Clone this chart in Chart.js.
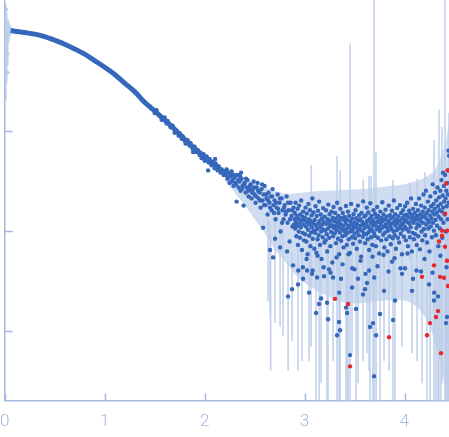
<!DOCTYPE html>
<html>
<head>
<meta charset="utf-8">
<script src="https://cdn.jsdelivr.net/npm/chart.js@4.4.1/dist/chart.umd.min.js"></script>
<style>
  html, body { margin: 0; padding: 0; background: #fff; }
  #wrap { width: 449px; height: 437px; position: relative; }
</style>
</head>
<body>
<div id="wrap"><canvas id="chart"></canvas></div>
<script>
// smooth low-q part of the curve (q in 1/nm, intensity in arbitrary units)
const curveQ = [0.06,0.1,0.2,0.3,0.4,0.5,0.6,0.7,0.8,0.9,1.0,1.1,1.2,1.3,1.4,1.5,1.6,1.7,1.8,1.9,2.0,2.1,2.2];
const curveI = [1.0,0.985,0.955,0.92,0.87,0.80,0.73,0.655,0.58,0.50,0.43,0.364,0.298,0.245,0.192,0.157,0.128,0.103,0.082,0.066,0.054,0.045,0.038];

// measured points [q, I]
const bluePoints = [
  [1.45,0.175],[1.47,0.165],[1.5,0.150],[1.52,0.160],[1.55,0.140],[1.57,0.128],[1.6,0.135],[1.62,0.118],[1.63,0.125],[1.66,0.108],
  [1.68,0.112],[1.7,0.095],[1.72,0.100],[1.74,0.089],[1.75,0.094],[1.77,0.083],[1.78,0.088],[1.8,0.079],[1.81,0.074],[1.83,0.080],
  [1.85,0.071],[1.86,0.075],[1.88,0.066],[1.885,0.061],[1.9,0.069],[1.91,0.061],[1.93,0.064],[1.95,0.057],[1.96,0.060],[1.97,0.053],
  [1.99,0.058],[2.0,0.050],[2.02,0.055],[2.035,0.040],[2.04,0.048],[2.05,0.052],[2.07,0.045],[2.08,0.049],[2.1,0.042],[2.105,0.052],
  [2.11,0.047],[2.13,0.040],[2.14,0.044],[2.16,0.038],[2.17,0.041],[2.19,0.036],[2.2,0.039],
  [2.21,0.036],[2.22,0.041],[2.23,0.033],[2.24,0.038],[2.25,0.030],[2.26,0.035],[2.27,0.039],[2.28,0.032],[2.29,0.028],[2.30,0.034],
  [2.31,0.030],[2.32,0.0195],[2.33,0.036],[2.34,0.027],[2.35,0.031],[2.36,0.025],[2.365,0.038],[2.37,0.033],[2.38,0.028],[2.39,0.0178],
  [2.40,0.030],[2.41,0.024],[2.42,0.027],[2.43,0.032],[2.44,0.022],[2.45,0.026],[2.46,0.029],[2.47,0.021],[2.48,0.025],[2.49,0.031],
  [2.50,0.023],[2.51,0.019],[2.52,0.027],[2.53,0.030],[2.54,0.021],[2.55,0.024],[2.56,0.017],[2.57,0.026],[2.58,0.020],[2.59,0.023],
  [2.60,0.028],[2.61,0.018],[2.62,0.021],[2.63,0.0145],[2.64,0.024],[2.65,0.019],[2.66,0.022],[2.67,0.016],[2.68,0.026],[2.69,0.018],
  [2.70,0.020],[2.71,0.013],[2.72,0.017],[2.73,0.023],[2.74,0.015],[2.75,0.019],[2.76,0.0098],[2.77,0.021],[2.78,0.016],[2.79,0.013],
  [2.80,0.018],[2.81,0.0145],[2.82,0.022],[2.83,0.012],[2.84,0.016],[2.85,0.0078],[2.86,0.019],[2.87,0.014],[2.88,0.011],[2.89,0.017],[2.90,0.013],
  [2.215,0.039],[2.235,0.034],[2.255,0.037],[2.275,0.031],[2.295,0.036],[2.315,0.029],[2.335,0.032],[2.355,0.035],[2.375,0.026],[2.395,0.029],
  [2.415,0.033],[2.435,0.025],[2.455,0.028],[2.475,0.024],[2.495,0.027],[2.515,0.022],[2.535,0.025],[2.555,0.020],[2.575,0.029],[2.595,0.018],
  [2.615,0.023],[2.635,0.020],[2.655,0.017],[2.675,0.022],[2.695,0.015],[2.715,0.019],[2.735,0.0165],[2.755,0.021],[2.775,0.012],[2.795,0.017],
  [2.815,0.0155],[2.835,0.019],[2.855,0.013],[2.875,0.016],[2.895,0.0115],
  [2.585,0.0107],[2.655,0.0064],[2.685,0.0054],[2.705,0.0083],[2.755,0.0068],[2.825,0.0062],[2.835,0.0022],[2.875,0.0026],[2.885,0.0045],
  [2.935,0.0029],[2.937,0.0040],
  [2.902,0.0150],[2.906,0.0105],[2.91,0.0190],[2.914,0.0122],[2.918,0.0088],[2.922,0.0140],[2.926,0.0112],[2.93,0.0165],[2.934,0.0072],[2.938,0.0131],
  [2.942,0.0098],[2.946,0.0178],[2.95,0.0118],[2.954,0.0085],[2.958,0.0145],[2.962,0.0108],[2.966,0.0200],[2.97,0.0126],[2.974,0.0064],[2.978,0.0138],
  [2.982,0.0095],[2.986,0.0155],[2.99,0.0115],[2.994,0.0080],[2.998,0.0128],
  [3.002,0.0135],[3.006,0.0092],[3.01,0.0170],[3.014,0.0110],[3.018,0.0078],[3.022,0.0148],[3.026,0.0121],[3.03,0.0058],[3.034,0.0102],[3.038,0.0185],
  [3.042,0.0130],[3.046,0.0089],[3.05,0.0115],[3.054,0.0160],[3.058,0.0070],[3.062,0.0125],[3.066,0.0096],[3.07,0.0142],[3.074,0.0108],[3.078,0.0210],
  [3.082,0.0083],[3.086,0.0119],[3.09,0.0152],[3.094,0.0100],[3.098,0.0066],
  [3.102,0.0128],[3.106,0.0095],[3.11,0.0175],[3.114,0.0113],[3.118,0.0060],[3.122,0.0140],[3.126,0.0104],[3.13,0.0082],[3.134,0.0158],[3.138,0.0118],
  [3.142,0.0090],[3.146,0.0195],[3.15,0.0125],[3.154,0.0072],[3.158,0.0108],[3.162,0.0145],[3.166,0.0098],[3.17,0.0052],[3.174,0.0132],[3.178,0.0115],
  [3.182,0.0086],[3.186,0.0168],[3.19,0.0102],[3.194,0.0122],[3.198,0.0076],
  [3.202,0.0138],[3.206,0.0100],[3.21,0.0080],[3.214,0.0160],[3.218,0.0117],[3.222,0.0092],[3.226,0.0062],[3.23,0.0130],[3.234,0.0105],[3.238,0.0182],
  [3.242,0.0120],[3.246,0.0085],[3.25,0.0146],[3.254,0.0110],[3.258,0.0070],[3.262,0.0126],[3.266,0.0097],[3.27,0.0155],[3.274,0.0113],[3.278,0.0048],
  [3.282,0.0135],[3.286,0.0088],[3.29,0.0172],[3.294,0.0106],[3.298,0.0124],
  [3.302,0.0094],[3.306,0.0150],[3.31,0.0112],[3.314,0.0075],[3.318,0.0132],[3.322,0.0101],[3.326,0.0190],[3.33,0.0120],[3.334,0.0083],[3.338,0.0140],
  [3.342,0.0108],[3.346,0.0058],[3.35,0.0126],[3.354,0.0096],[3.358,0.0165],[3.362,0.0116],[3.366,0.0079],[3.37,0.0134],[3.374,0.0103],[3.378,0.0088],
  [3.382,0.0150],[3.386,0.0111],[3.39,0.0068],[3.394,0.0128],[3.398,0.0099],
  [3.402,0.0137],[3.406,0.0090],[3.41,0.0118],[3.414,0.0176],[3.418,0.0104],[3.422,0.0072],[3.426,0.0128],[3.43,0.0095],[3.434,0.0155],[3.438,0.0112],
  [3.442,0.0082],[3.446,0.0140],[3.45,0.0107],[3.454,0.0060],[3.458,0.0124],[3.462,0.0098],[3.466,0.0185],[3.47,0.0116],[3.474,0.0086],[3.478,0.0132],
  [3.482,0.0102],[3.486,0.0074],[3.49,0.0146],[3.494,0.0110],[3.498,0.0093],
  [3.502,0.0121],[3.506,0.0084],[3.51,0.0160],[3.514,0.0108],[3.518,0.0133],[3.522,0.0066],[3.526,0.0115],[3.53,0.0098],[3.534,0.0178],[3.538,0.0126],
  [3.542,0.0090],[3.546,0.0143],[3.55,0.0104],[3.554,0.0078],[3.558,0.0130],[3.562,0.0112],[3.566,0.0055],[3.57,0.0150],[3.574,0.0100],[3.578,0.0122],
  [3.582,0.0087],[3.586,0.0196],[3.59,0.0114],[3.594,0.0094],[3.598,0.0138],
  [3.602,0.0106],[3.606,0.0075],[3.61,0.0142],[3.614,0.0118],[3.618,0.0092],[3.622,0.0170],[3.626,0.0125],[3.63,0.0082],[3.634,0.0110],[3.638,0.0152],
  [3.642,0.0097],[3.646,0.0064],[3.65,0.0131],[3.654,0.0105],[3.658,0.0188],[3.662,0.0119],[3.666,0.0086],[3.67,0.0140],[3.674,0.0101],[3.678,0.0072],
  [3.682,0.0127],[3.686,0.0112],[3.69,0.0160],[3.694,0.0095],[3.698,0.0120],
  [3.702,0.0089],[3.706,0.0147],[3.71,0.0113],[3.714,0.0070],[3.718,0.0135],[3.722,0.0103],[3.726,0.0172],[3.73,0.0122],[3.734,0.0085],[3.738,0.0140],
  [3.742,0.0108],[3.746,0.0059],[3.75,0.0128],[3.754,0.0099],[3.758,0.0155],[3.762,0.0117],[3.766,0.0080],[3.77,0.0134],[3.774,0.0106],[3.778,0.0192],
  [3.782,0.0124],[3.786,0.0091],[3.79,0.0145],[3.794,0.0110],[3.798,0.0068],
  [3.802,0.0130],[3.806,0.0096],[3.81,0.0162],[3.814,0.0115],[3.818,0.0082],[3.822,0.0138],[3.826,0.0107],[3.83,0.0062],[3.834,0.0125],[3.838,0.0100],
  [3.842,0.0178],[3.846,0.0120],[3.85,0.0088],[3.854,0.0143],[3.858,0.0111],[3.862,0.0073],[3.866,0.0132],[3.87,0.0104],[3.874,0.0158],[3.878,0.0118],
  [3.882,0.0084],[3.886,0.0136],[3.89,0.0098],[3.894,0.0200],[3.898,0.0122],
  [3.902,0.0090],[3.906,0.0146],[3.91,0.0112],[3.914,0.0066],[3.918,0.0129],[3.922,0.0101],[3.926,0.0168],[3.93,0.0119],[3.934,0.0085],[3.938,0.0139],
  [3.942,0.0105],[3.946,0.0076],[3.95,0.0126],[3.954,0.0180],[3.958,0.0110],[3.962,0.0093],[3.966,0.0150],[3.97,0.0116],[3.974,0.0058],[3.978,0.0133],
  [3.982,0.0102],[3.986,0.0160],[3.99,0.0121],[3.994,0.0087],[3.998,0.0141],
  [4.002,0.0110],[4.006,0.0175],[4.01,0.0127],[4.014,0.0080],[4.018,0.0144],[4.022,0.0104],[4.026,0.0190],[4.03,0.0122],[4.034,0.0070],[4.038,0.0136],
  [4.042,0.0098],[4.046,0.0158],[4.05,0.0117],[4.054,0.0086],[4.058,0.0148],[4.062,0.0108],[4.066,0.0210],[4.07,0.0128],[4.074,0.0062],[4.078,0.0140],
  [4.082,0.0095],[4.086,0.0165],[4.09,0.0120],[4.094,0.0082],[4.098,0.0134],
  [4.102,0.0150],[4.106,0.0092],[4.11,0.0128],[4.114,0.0185],[4.118,0.0106],[4.122,0.0072],[4.126,0.0140],[4.13,0.0116],[4.134,0.0160],[4.138,0.0088],
  [4.142,0.0130],[4.146,0.0210],[4.15,0.0112],[4.154,0.0065],[4.158,0.0145],[4.162,0.0124],[4.166,0.0178],[4.17,0.0098],[4.174,0.0136],[4.178,0.0080],
  [4.182,0.0155],[4.186,0.0120],[4.19,0.0230],[4.194,0.0104],[4.198,0.0142],
  [4.202,0.0170],[4.206,0.0090],[4.21,0.0135],[4.214,0.0250],[4.218,0.0115],[4.222,0.0150],[4.226,0.0076],[4.23,0.0128],[4.234,0.0195],[4.238,0.0105],
  [4.242,0.0160],[4.246,0.0122],[4.25,0.0062],[4.254,0.0142],[4.258,0.0220],[4.262,0.0110],[4.266,0.0175],[4.27,0.0132],[4.274,0.0086],[4.278,0.0155],
  [4.282,0.0290],[4.286,0.0120],[4.29,0.0185],[4.294,0.0100],[4.298,0.0145],
  [4.302,0.0165],[4.306,0.0240],[4.31,0.0128],[4.314,0.0090],[4.318,0.0200],[4.322,0.0150],[4.326,0.0112],[4.33,0.0270],[4.334,0.0175],[4.338,0.0070],
  [4.342,0.0138],[4.346,0.0215],[4.35,0.0160],[4.354,0.0105],[4.358,0.0250],[4.362,0.0185],[4.366,0.0130],[4.37,0.0320],[4.374,0.0155],[4.378,0.0085],
  [4.382,0.0225],[4.386,0.0170],[4.39,0.0120],[4.394,0.0280],[4.398,0.0195],
  [4.402,0.0145],[4.406,0.0360],[4.41,0.0210],[4.414,0.0098],[4.418,0.0250],[4.422,0.0175],[4.426,0.0300],[4.43,0.0130],[4.434,0.0230],[4.438,0.0400],
  [4.442,0.0190],[4.446,0.0560],[4.44,0.063],[4.385,0.038],
  [3.02,0.0052],[3.08,0.0040],[3.13,0.0056],[3.19,0.0043],[3.26,0.0038],[3.32,0.0054],[3.38,0.0046],[3.44,0.0058],[3.5,0.0041],[3.56,0.0050],
  [3.61,0.0037],[3.68,0.0055],[3.73,0.0044],[3.79,0.0057],[3.84,0.0039],[3.9,0.0053],[3.96,0.0042],[4.03,0.0059],[4.12,0.0040],[4.2,0.0052],
  [4.28,0.0038],[4.36,0.0056],[4.42,0.0043],
  [3.115,0.0015],[3.145,0.00185],[3.225,0.0019],[3.235,0.0013],[3.325,0.0009],[3.345,0.00122],[3.355,0.00101],[3.415,0.0017],[3.425,0.0015],
  [3.455,0.00057],[3.515,0.00165],[3.655,0.00109],[3.685,0.00119],[3.695,0.00035],[3.715,0.0009],[3.755,0.00147],[3.885,0.00128],[3.905,0.002],
  [4.295,0.002],[4.415,0.00119],[4.425,0.00137],[3.045,0.0024],[2.985,0.0033],[3.165,0.0021],[3.025,0.0040],[2.983,0.0043],[3.075,0.0037],
  [3.125,0.0034],[3.195,0.0035],[3.245,0.0041],[3.285,0.0034],[3.347,0.0024],[3.365,0.0033],[3.475,0.0027],[3.585,0.0023],[3.605,0.0026],
  [3.625,0.0030],[3.795,0.0025],[3.697,0.0034],[3.645,0.0040],[3.535,0.0033],[3.477,0.0042],[3.875,0.0049],[3.975,0.0037],[4.005,0.0042],
  [4.085,0.0033],[4.075,0.0025],[4.165,0.0039],[4.245,0.0029],[4.335,0.0022],[4.297,0.0024]
];

// rejected points
const redPoints = [
  [3.305,0.00208],[3.435,0.00185],[3.455,0.00044],[3.845,0.000862],[4.175,0.00345],[4.225,0.0009],[4.255,0.00119],[4.295,0.0045],
  [4.315,0.00137],[4.335,0.00157],[4.355,0.00345],[4.345,0.0078],[4.365,0.000596],[4.375,0.0089],[4.377,0.0100],[4.395,0.00338],
  [4.405,0.0069],[4.407,0.0148],[4.425,0.0050],[4.427,0.0100],[4.415,0.0296],[4.435,0.0028],[4.43,0.040]
];

// masked points at the very lowest q
const maskedPoints = [[0.015,1.62],[0.015,0.83],[0.012,0.67],[0.028,0.585],[0.028,0.38]];

// error bars [q, low, high]
const errorBars = [
  [0.012,0.20,1.82],[0.02,0.30,1.5],[0.03,0.45,1.3],[0.04,0.76,1.25],[0.05,0.86,1.15],[0.06,0.92,1.08],
  [3.455,0.0002,0.737],[3.695,0.0002,2.1],[3.715,0.0002,0.0607],[3.325,0.0002,0.0553],[3.355,0.0002,0.04],[4.405,0.0002,2.1],
  [4.345,0.0002,0.16],[4.375,0.0003,0.108],[4.295,0.0002,0.08],[3.645,0.0004,0.035],[3.885,0.0002,0.0318],
  [3.115,0.0002,0.012],[3.145,0.0002,0.010],[3.165,0.0003,0.009],[3.225,0.0002,0.011],[3.235,0.0002,0.008],[3.345,0.0002,0.009],
  [3.415,0.0002,0.012],[3.425,0.0002,0.010],[3.435,0.0002,0.009],[3.515,0.0002,0.011],[3.535,0.0003,0.008],[3.655,0.0002,0.012],
  [3.685,0.0002,0.013],[3.755,0.0002,0.009],[3.905,0.0002,0.010],[4.175,0.0003,0.011],[4.225,0.0002,0.012],[4.255,0.0002,0.014],
  [4.315,0.0002,0.015],[4.335,0.0002,0.013],[4.365,0.0002,0.012],[4.415,0.0002,0.020],[4.425,0.0002,0.018],[4.435,0.0002,0.030],
  [4.445,0.0002,0.15],
  [2.835,0.0004,0.005],[2.875,0.0008,0.006],[2.935,0.0004,0.007],[2.975,0.0005,0.006],[3.045,0.0005,0.008],[3.065,0.0007,0.009],
  [3.285,0.0005,0.008],[3.475,0.0006,0.009],[3.585,0.0005,0.007],[3.625,0.0006,0.010],[3.795,0.0005,0.009],[3.845,0.0004,0.006],
  [3.975,0.0007,0.009],[4.075,0.0006,0.008],[4.125,0.0005,0.011],[2.655,0.0015,0.012],[2.705,0.0012,0.013],[2.755,0.0011,0.012],
  [2.785,0.0009,0.011],[2.635,0.002,0.013],[2.66,0.0004,0.009],
  [3.067,0.004,0.045],[3.587,0.005,0.032],[3.665,0.004,0.035],[4.055,0.005,0.030],[4.127,0.005,0.033],[4.205,0.004,0.038]
];

// spread of the error bars in the noisy part
const bandQ  = [2.2,2.3,2.4,2.5,2.6,2.7,2.8,2.9,3.0,3.2,3.4,3.6,3.8,4.0,4.1,4.2,4.3,4.4,4.445];
const bandHi = [0.044,0.038,0.033,0.030,0.027,0.025,0.0235,0.0235,0.024,0.025,0.0255,0.026,0.0275,0.029,0.031,0.034,0.040,0.070,0.12];
const bandLo = [0.032,0.024,0.018,0.013,0.0095,0.0065,0.005,0.0037,0.003,0.0023,0.0019,0.0019,0.002,0.002,0.0018,0.0014,0.0008,0.0003,0.0002];

const xTicks = [0, 1, 2, 3, 4];
const yTicks = [0.001, 0.01, 0.1, 1];

const axisColor = "#a5b9df";
const pointColor = "#3567bb";
const errColor = "rgba(190,206,233,0.9)";

const tickMarks = {
  id: "tickMarks",
  beforeDatasetsDraw(chart) {
    const { ctx, chartArea, scales } = chart;
    ctx.save();
    ctx.strokeStyle = axisColor;
    ctx.lineWidth = 1.5;
    ctx.beginPath();
    yTicks.forEach(v => {
      const y = Math.round(scales.y.getPixelForValue(v)) + 0.5;
      ctx.moveTo(chartArea.left, y);
      ctx.lineTo(chartArea.left + 8, y);
    });
    xTicks.forEach(v => {
      const x = Math.round(scales.x.getPixelForValue(v)) + 0.5;
      ctx.moveTo(x, chartArea.bottom);
      ctx.lineTo(x, chartArea.bottom - 7);
    });
    ctx.stroke();
    ctx.restore();
  }
};

const toXY = arr => arr.map(p => ({ x: p[0], y: p[1] }));

new Chart(document.getElementById("chart"), {
  type: "scatter",
  data: {
    datasets: [
      {
        type: "line",
        data: bandQ.map((q, i) => ({ x: q, y: bandHi[i] })),
        borderWidth: 0,
        pointRadius: 0,
        tension: 0.3,
        fill: "+1",
        backgroundColor: "rgba(200,214,237,0.85)",
        order: 6
      },
      {
        type: "line",
        data: bandQ.map((q, i) => ({ x: q, y: bandLo[i] })),
        borderWidth: 0,
        pointRadius: 0,
        tension: 0.3,
        fill: false,
        order: 6
      },
      {
        type: "bar",
        data: errorBars.map(e => ({ x: e[0], y: [e[1], e[2]] })),
        backgroundColor: errColor,
        barThickness: 1,
        grouped: false,
        order: 5
      },
      {
        type: "line",
        data: curveQ.map((q, i) => ({ x: q, y: curveI[i] })),
        borderColor: pointColor,
        borderWidth: 5,
        pointRadius: 0,
        tension: 0.4,
        fill: false,
        order: 3
      },
      {
        data: toXY(maskedPoints),
        backgroundColor: "#b7cbea",
        pointRadius: 2,
        pointBorderWidth: 0,
        order: 4
      },
      {
        data: toXY(bluePoints),
        backgroundColor: pointColor,
        pointRadius: 2.2,
        pointBorderWidth: 0,
        order: 2
      },
      {
        data: toXY(redPoints),
        backgroundColor: "#e8272b",
        pointRadius: 2.2,
        pointBorderWidth: 0,
        order: 1
      }
    ]
  },
  options: {
    responsive: true,
    maintainAspectRatio: false,
    animation: false,
    layout: { autoPadding: false, padding: { left: 4, top: 0, right: 0, bottom: 5 } },
    plugins: {
      legend: { display: false },
      tooltip: { enabled: false }
    },
    scales: {
      x: {
        type: "linear",
        min: 0,
        max: 4.445,
        offset: false,
        afterBuildTicks: scale => {
          scale.ticks = xTicks.map(v => ({ value: v }));
        },
        ticks: {
          color: axisColor,
          padding: 0,
          maxRotation: 0,
          font: { family: "Roboto", size: 17, weight: 300 }
        },
        grid: { display: false, drawTicks: true, tickLength: 11, offset: false },
        border: { display: true, color: axisColor, width: 1.5 }
      },
      y: {
        type: "logarithmic",
        min: 0.0002,
        max: 2.02,
        ticks: { display: false },
        grid: { display: false, drawTicks: false },
        border: { display: true, color: axisColor, width: 1.5 }
      }
    }
  },
  plugins: [tickMarks]
});
</script>
</body>
</html>
